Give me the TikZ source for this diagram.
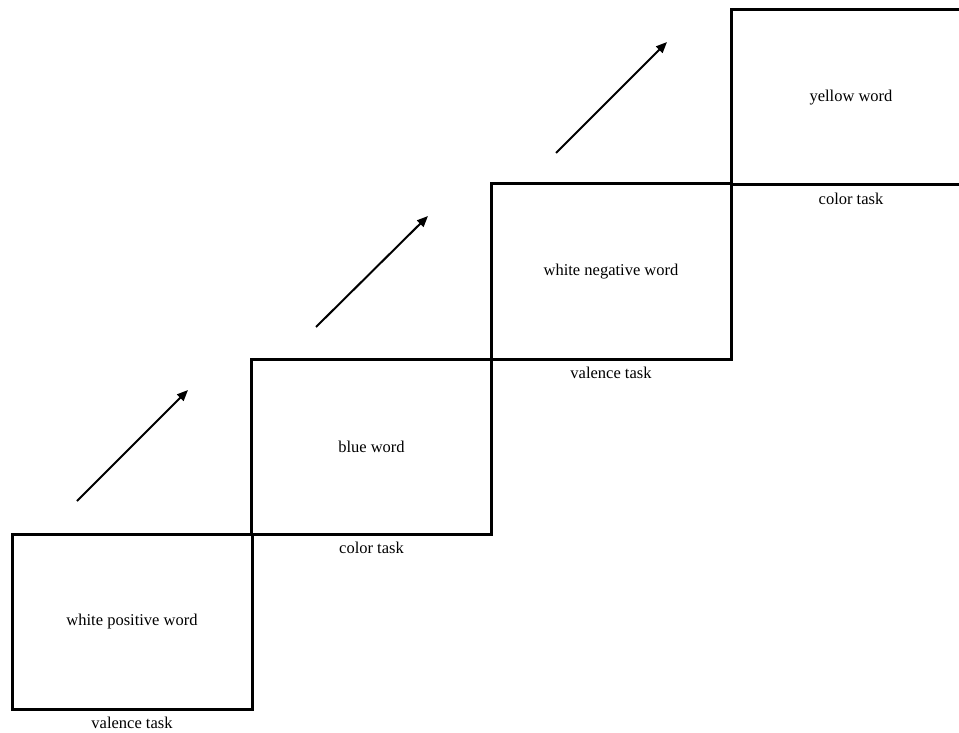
\documentclass[tikz,border=0pt]{standalone}
\usepackage{fontspec}
\setmainfont{Liberation Serif}
\usetikzlibrary{arrows.meta}
\begin{document}
\begin{tikzpicture}[x=1pt,y=-1pt,
  screen/.style={draw=black,line width=3pt,rectangle,minimum width=240pt,minimum height=175pt,inner sep=0pt,
    font=\fontsize{16.5}{20}\selectfont},
  task/.style={anchor=north,inner sep=0pt,font=\fontsize{16.5}{20}\selectfont},
  flow/.style={line width=2pt,-{Triangle[length=11pt,width=9pt]}}]
\clip (0,0) rectangle (959,733);
\node[screen] (b1) at (132,621.5) {white positive word};
\node[screen] (b2) at (371.5,446.5) {blue word};
\node[screen] (b3) at (611,271.5) {white negative word};
\node[screen] (b4) at (851,97.5) {yellow word};
\node[task] (t1) at ([yshift=-6pt]b1.south) {valence task};
\node[task] (t2) at ([yshift=-6pt]b2.south) {color task};
\node[task] (t3) at ([yshift=-6pt]b3.south) {valence task};
\node[task] (t4) at ([yshift=-6pt]b4.south) {color task};
\coordinate (a1s) at (77,501);  \coordinate (a1e) at (188,390);
\coordinate (a2s) at (316,327); \coordinate (a2e) at (428,216);
\coordinate (a3s) at (556,153); \coordinate (a3e) at (667,42);
\draw[flow] (a1s) -- (a1e);
\draw[flow] (a2s) -- (a2e);
\draw[flow] (a3s) -- (a3e);
\end{tikzpicture}
\end{document}
